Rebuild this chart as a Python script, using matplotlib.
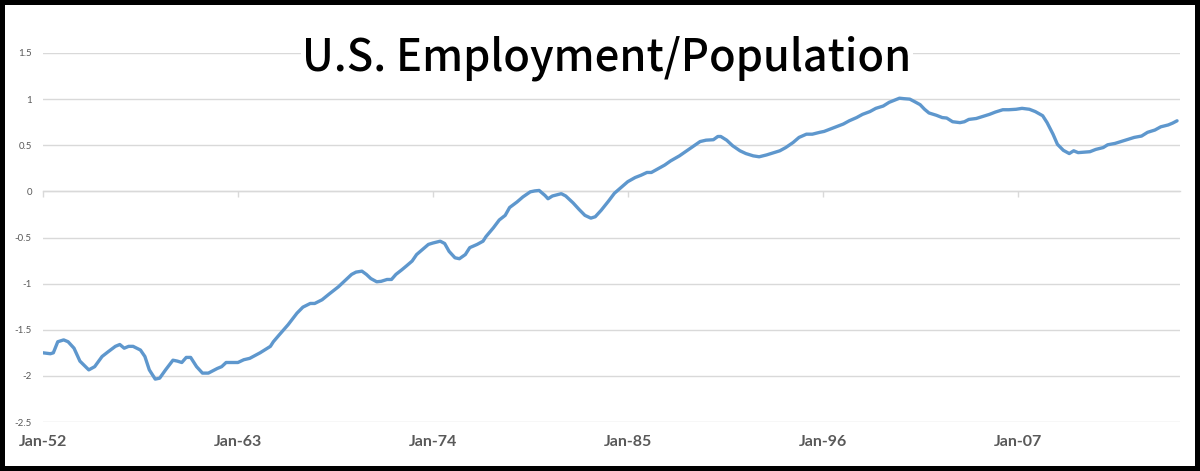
import matplotlib
matplotlib.use("Agg")
import matplotlib.pyplot as plt
from matplotlib.transforms import blended_transform_factory

plt.rcParams['axes.unicode_minus'] = False

# months since Jan-1952
months = [0, 5, 7, 10, 14, 17, 21, 25, 31, 35, 40, 44, 49, 52, 55, 58, 61, 66, 69, 72,
          76, 79, 83, 88, 91, 94, 97, 100, 104, 108, 112, 118, 121, 124, 132, 136, 140, 147, 154, 156,
          160, 166, 172, 176, 181, 184, 189, 194, 200, 204, 209, 212, 216, 219, 222, 226, 229, 233, 236, 239,
          243, 246, 250, 253, 257, 261, 264, 269, 272, 275, 279, 282, 286, 289, 294, 298, 300, 305, 309, 313,
          316, 321, 325, 330, 333, 336, 340, 342, 345, 351, 354, 359, 363, 367, 371, 374, 378, 383, 387, 392,
          396, 401, 405, 409, 412, 416, 421, 425, 431, 436, 440, 445, 449, 454, 457, 459, 463, 467, 472, 476,
          481, 485, 490, 494, 499, 503, 508, 512, 517, 521, 526, 529, 533, 537, 542, 546, 551, 555, 560, 564,
          569, 573, 577, 580, 583, 587, 590, 594, 597, 600, 605, 609, 612, 616, 621, 624, 627, 632, 636, 641,
          645, 650, 654, 659, 663, 668, 672, 677, 680, 684, 687, 691, 695, 698, 701, 705, 709, 713, 718, 721,
          726, 730, 735, 739, 744, 748, 753, 757, 762, 765, 768]
values = [-1.75, -1.76, -1.75, -1.63, -1.61, -1.63, -1.70, -1.84, -1.935, -1.90, -1.79, -1.74, -1.68, -1.66, -1.70, -1.68, -1.68, -1.72, -1.79, -1.935,
          -2.035, -2.025, -1.935, -1.83, -1.84, -1.855, -1.80, -1.80, -1.90, -1.97, -1.97, -1.92, -1.90, -1.855, -1.855, -1.825, -1.81, -1.75, -1.68, -1.63,
          -1.555, -1.445, -1.32, -1.255, -1.215, -1.215, -1.175, -1.11, -1.035, -0.975, -0.90, -0.875, -0.865, -0.90, -0.945, -0.98, -0.975, -0.955, -0.955, -0.90,
          -0.85, -0.81, -0.755, -0.685, -0.63, -0.575, -0.56, -0.54, -0.565, -0.65, -0.72, -0.73, -0.685, -0.61, -0.575, -0.54, -0.49, -0.395, -0.31, -0.26,
          -0.175, -0.115, -0.06, -0.005, 0.005, 0.01, -0.045, -0.08, -0.05, -0.025, -0.05, -0.125, -0.195, -0.26, -0.29, -0.275, -0.205, -0.105, -0.02, 0.05,
          0.105, 0.15, 0.175, 0.205, 0.205, 0.24, 0.285, 0.33, 0.385, 0.44, 0.485, 0.54, 0.555, 0.56, 0.595, 0.595, 0.555, 0.495, 0.44, 0.41,
          0.385, 0.375, 0.395, 0.415, 0.44, 0.475, 0.53, 0.585, 0.62, 0.62, 0.64, 0.65, 0.675, 0.70, 0.73, 0.765, 0.80, 0.835, 0.865, 0.90,
          0.925, 0.965, 0.99, 1.01, 1.005, 1.0, 0.975, 0.94, 0.89, 0.85, 0.825, 0.80, 0.795, 0.755, 0.745, 0.755, 0.78, 0.79, 0.81, 0.835,
          0.86, 0.885, 0.885, 0.89, 0.90, 0.89, 0.865, 0.82, 0.745, 0.62, 0.51, 0.445, 0.41, 0.44, 0.42, 0.425, 0.43, 0.455, 0.475, 0.505,
          0.52, 0.54, 0.565, 0.585, 0.60, 0.64, 0.665, 0.70, 0.72, 0.74, 0.765]

x_tick_pos = [0, 132, 264, 396, 528, 660]
x_tick_labels = ["Jan-52", "Jan-63", "Jan-74", "Jan-85", "Jan-96", "Jan-07"]
y_ticks = [-2.5, -2, -1.5, -1, -0.5, 0, 0.5, 1, 1.5]
y_tick_labels = ["-2.5", "-2", "-1.5", "-1", "-0.5", "0", "0.5", "1", "1.5"]
title = "U.S. Employment/Population"

W, H = 1200, 471
fig = plt.figure(figsize=(W / 100, H / 100), dpi=100, facecolor='white',
                 edgecolor='black', linewidth=7)
ax = fig.add_axes([43 / W, 1 - 422 / H, (1180 - 43) / W, (422 - 53) / H])

ax.plot(months, values, color='#5E97CD', linewidth=2.4, solid_joinstyle='round',
        solid_capstyle='round', zorder=3)

ax.set_xlim(0, 770)
ax.set_ylim(-2.5, 1.5)
ax.set_yticks(y_ticks)
ax.set_yticklabels(y_tick_labels, fontsize=7, color='#595959', family='Lato')
ax.tick_params(axis='y', length=0, pad=8)
ax.grid(axis='y', color='#d9d9d9', linewidth=1.0, zorder=0)
ax.set_axisbelow(True)

for s in ['top', 'right', 'left']:
    ax.spines[s].set_visible(False)
ax.spines['bottom'].set_position(('data', 0))
ax.spines['bottom'].set_color('#d9d9d9')
ax.spines['bottom'].set_linewidth(1.0)
ax.set_xticks(x_tick_pos)
ax.set_xticklabels([])
ax.tick_params(axis='x', direction='out', length=4, width=1.0, color='#d9d9d9')

trans = blended_transform_factory(ax.transData, ax.transAxes)
for p, lab in zip(x_tick_pos, x_tick_labels):
    ax.text(p, -0.055, lab, transform=trans, ha='center', va='center',
            fontsize=11.5, fontweight='bold', color='#595959', family='Lato')

fig.text(607 / W, 1 - 58 / H, title, ha='center', va='center', fontsize=31.3,
         color='black', family='Noto Sans CJK JP', fontweight='medium',
         bbox=dict(facecolor='white', edgecolor='none', pad=1))

fig.savefig('out.png', dpi=100, facecolor='white', edgecolor='black')
